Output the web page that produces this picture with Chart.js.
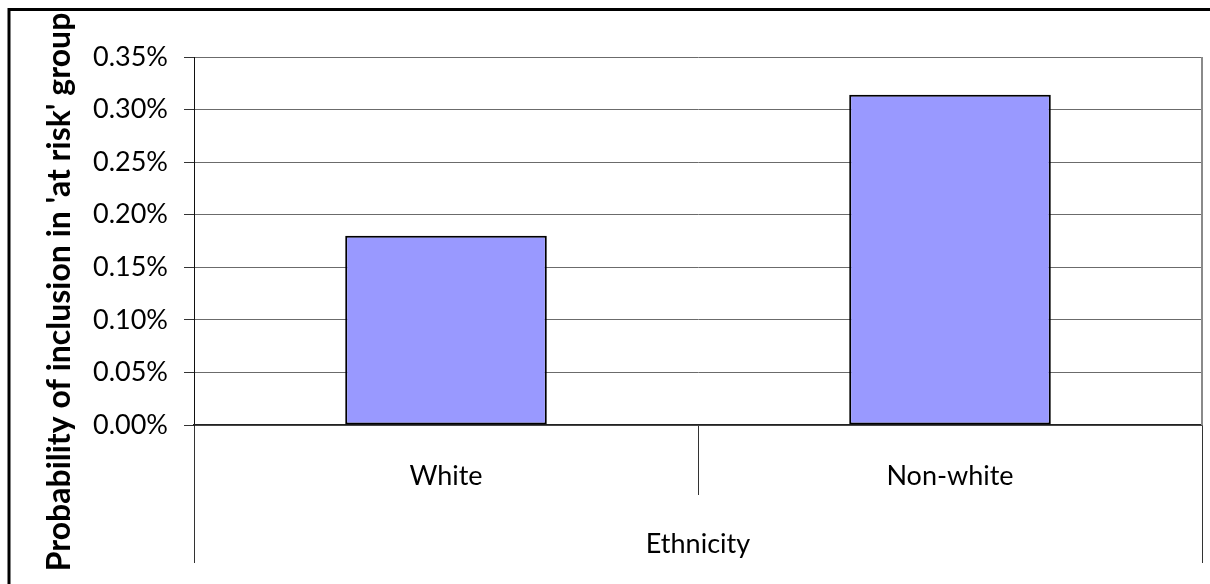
<!DOCTYPE html>
<html>
<head>
<meta charset="utf-8">
<script src="https://cdn.jsdelivr.net/npm/chart.js@4.4.1/dist/chart.umd.min.js"></script>
<style>
  html, body { margin: 0; padding: 0; background: #fff; }
  #wrap { width: 1210px; height: 584px; }
</style>
</head>
<body>
<div id="wrap"><canvas id="chart" width="1210" height="584"></canvas></div>
<script>
// Chart data
const categories = ['White', 'Non-white'];
const groupLabels = ['Ethnicity'];
const probabilityPct = [0.180, 0.314];
const yMin = 0;
const yMax = 0.35;
const yStep = 0.05;
const yTitle = "Probability of inclusion in 'at risk' group";

// Styling
const FONT = 'Lato, "Open Sans", sans-serif';
const TICK_SIZE = 27;
const TITLE_SIZE = 32;
const TITLE_PAD = { top: 40, bottom: 10 };
const PLOT_LEFT = 194;
const PLOT_TOP = 57;

const titleBoxWidth = TITLE_SIZE * 1.2 + TITLE_PAD.top + TITLE_PAD.bottom;

// Outer border of the chart and the right edge of the plot frame
const framePlugin = {
  id: 'frame',
  beforeDraw(chart) {
    const ctx = chart.ctx;
    ctx.save();
    ctx.fillStyle = '#fff';
    ctx.fillRect(0, 0, chart.width, chart.height);
    ctx.strokeStyle = '#000';
    ctx.lineWidth = 3;
    ctx.beginPath();
    ctx.moveTo(9, chart.height + 5);
    ctx.lineTo(9, 9.5);
    ctx.lineTo(chart.width + 5, 9.5);
    ctx.stroke();
    ctx.restore();
  },
  beforeDatasetsDraw(chart) {
    const { ctx, chartArea } = chart;
    ctx.save();
    ctx.strokeStyle = '#8a8a8a';
    ctx.lineWidth = 2;
    ctx.beginPath();
    ctx.moveTo(chartArea.right, chartArea.top);
    ctx.lineTo(chartArea.right, chartArea.bottom);
    ctx.stroke();
    ctx.restore();
  }
};

new Chart(document.getElementById('chart'), {
  type: 'bar',
  data: {
    labels: categories,
    datasets: [{
      data: probabilityPct,
      backgroundColor: '#9999ff',
      borderColor: '#000',
      borderWidth: 2,
      borderSkipped: false,
      categoryPercentage: 1,
      barPercentage: 0.4
    }]
  },
  options: {
    responsive: false,
    animation: false,
    devicePixelRatio: 1,
    layout: { padding: { left: 0, top: 0, right: 8, bottom: 0 } },
    plugins: {
      legend: { display: false },
      tooltip: { enabled: false },
      title: {
        display: true,
        position: 'left',
        text: yTitle,
        color: '#000',
        font: { family: FONT, size: TITLE_SIZE, weight: 'bold' },
        padding: TITLE_PAD
      }
    },
    scales: {
      y: {
        min: yMin,
        max: yMax,
        ticks: {
          stepSize: yStep,
          color: '#000',
          padding: 16,
          font: { family: FONT, size: TICK_SIZE },
          callback: v => v.toFixed(2) + '%'
        },
        grid: { color: '#6b6b6b', tickColor: '#333', tickLength: 10, lineWidth: 1 },
        border: { display: true, color: '#111', width: 1 },
        afterFit(scale) {
          scale.width = PLOT_LEFT - titleBoxWidth;
          scale.paddingTop = PLOT_TOP;
        }
      },
      x: {
        type: 'category',
        offset: true,
        weight: 0,
        ticks: {
          color: '#000',
          maxRotation: 0,
          padding: -35,
          font: { family: FONT, size: TICK_SIZE }
        },
        grid: { offset: true, drawOnChartArea: false, tickLength: 70, tickColor: '#333', lineWidth: 1 },
        border: { display: true, color: '#222', width: 1.5 },
        afterFit(scale) { scale.height = 70; }
      },
      x2: {
        type: 'category',
        position: 'bottom',
        labels: groupLabels,
        offset: true,
        weight: 1,
        ticks: {
          color: '#000',
          maxRotation: 0,
          padding: -35,
          font: { family: FONT, size: TICK_SIZE }
        },
        grid: { offset: true, drawOnChartArea: false, tickLength: 68, tickColor: '#333', lineWidth: 1 },
        border: { display: false },
        afterFit(scale) { scale.height = 89; }
      }
    }
  },
  plugins: [framePlugin]
});
</script>
</body>
</html>
